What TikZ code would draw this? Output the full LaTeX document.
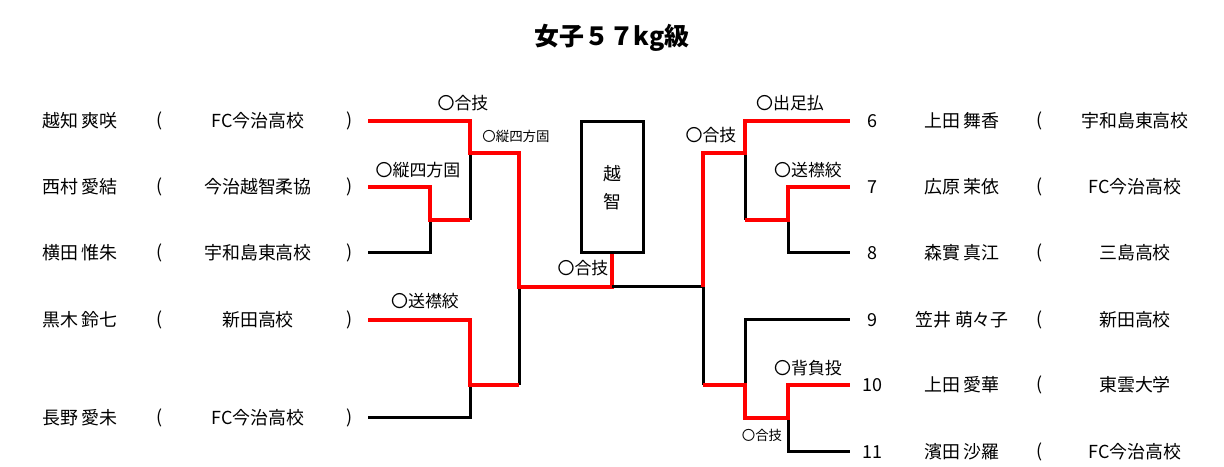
\documentclass[tikz,border=0pt]{standalone}
\usepackage{fontspec}
\setmainfont{Noto Sans CJK JP}
\begin{document}
\begin{tikzpicture}[x=1bp,y=-1bp,
  rd/.style={draw=red,line width=4bp},
  bk/.style={draw=black,line width=3bp},
  txt/.style={font=\fontsize{18}{20}\selectfont,inner sep=0},
  lb/.style={font=\fontsize{17}{19}\selectfont,inner sep=0},
  sl/.style={font=\fontsize{13.5}{15}\selectfont,inner sep=0}]
\useasboundingbox (0,0) rectangle (1224,467);
\node[font=\bfseries\fontsize{25}{27}\selectfont] (title) at (612,38) {女子５７kg級};
% left entries
\foreach \i/\y/\n/\s in {1/121/越知 爽咲/FC今治高校,2/187/西村 愛結/今治越智柔協,3/253/横田 惟朱/宇和島東高校,4/320/黒木 鈴七/新田高校,5/418/長野 愛未/FC今治高校}{
  \node[txt] (ln\i) at (80,\y) {\n};
  \node[txt] (lo\i) at (160,\y) {(};
  \node[txt] (ls\i) at (258,\y) {\s};
  \node[txt] (lc\i) at (350,\y) {)};
}
\foreach \i/\y/\k/\n/\s in {6/121/6/上田 舞香/宇和島東高校,7/187/7/広原 茉依/FC今治高校,8/253/8/森實 真江/三島高校,9/320/9/笠井 萌々子/新田高校,10/385/10/上田 愛華/東雲大学,11/452/11/濱田 沙羅/FC今治高校}{
  \node[txt] (rk\i) at (872,\y) {\k};
  \node[txt] (rn\i) at (962,\y) {\n};
  \node[txt] (ro\i) at (1040,\y) {(};
  \node[txt] (rs\i) at (1135,\y) {\s};
}
\node[draw,line width=3bp,minimum width=62bp,minimum height=131bp,inner sep=0,font=\fontsize{18}{28}\selectfont,align=center] (box) at (612,187.5) {越\\智};
% left bracket
\draw[bk] (470,220) -- (470,153);
\draw[bk] (368,253) -- (430,253) -- (430,220);
\draw[bk] (519,385) -- (519,287);
\draw[bk] (368,418) -- (470,418) -- (470,385);
\draw[rd] (368,121) -- (470,121) -- (470,153) -- (519,153) -- (519,287) -- (612,287) -- (box.south);
\draw[rd] (368,187) -- (430,187) -- (430,220) -- (470,220);
\draw[rd] (368,320) -- (470,320) -- (470,385) -- (519,385);
% right bracket
\draw[bk] (612,287) -- (703,287) -- (703,385);
\draw[bk] (745,153) -- (745,220);
\draw[bk] (788,220) -- (788,253) -- (850,253);
\draw[bk] (745,385) -- (745,320) -- (850,320);
\draw[bk] (788,418) -- (788,452) -- (850,452);
\draw[rd] (703,287) -- (703,153) -- (745,153) -- (745,121) -- (850,121);
\draw[rd] (745,220) -- (788,220) -- (788,187) -- (850,187);
\draw[rd] (703,385) -- (745,385) -- (745,418) -- (788,418) -- (788,385) -- (850,385);
% labels
\node[lb] (a1) at (463,103) {〇合技};
\node[sl] (a2) at (516,136) {〇縦四方固};
\node[lb] (a3) at (418,170) {〇縦四方固};
\node[lb] (a4) at (425,301) {〇送襟絞};
\node[lb] (a5) at (583,268) {〇合技};
\node[lb] (a6) at (711,135) {〇合技};
\node[lb] (a7) at (790,103) {〇出足払};
\node[lb] (a8) at (808,170) {〇送襟絞};
\node[lb] (a9) at (808,368) {〇背負投};
\node[sl] (a10) at (762,435) {〇合技};
\end{tikzpicture}
\end{document}
